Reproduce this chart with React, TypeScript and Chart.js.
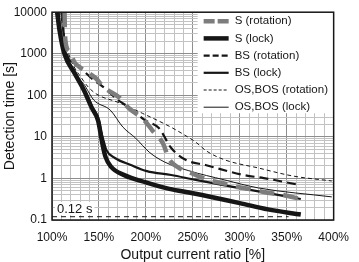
import React, { useEffect, useRef } from 'react';
import { Chart, registerables } from 'chart.js';

Chart.register(...registerables);

// ---- data ----
const seriesLabels = ['S (rotation)', 'S (lock)', 'BS (rotation)', 'BS (lock)', 'OS,BOS (rotation)', 'OS,BOS (lock)'];

const sRotX = [113.4, 113.6, 114.5, 119, 123.8, 131, 146.6, 154.8, 172.4, 180.7, 198.3, 206.6, 219, 224, 235.5, 248, 266.6, 281, 297.6, 312, 325.5, 346, 364.8];
const sRotY = [10000, 4870, 1900, 1100, 630, 450, 257, 158, 86, 52, 25, 14.6, 6.4, 3.1, 1.78, 1.35, 0.92, 0.775, 0.62, 0.55, 0.47, 0.4, 0.32];

const sLockX = [105.5, 108, 113, 124, 134, 142, 149, 151.5, 153.5, 157, 163, 177, 200, 225, 250, 300, 330, 365];
const sLockY = [10000, 3700, 1030, 342, 133, 52, 25, 13, 7.1, 3.3, 1.9, 1.2, 0.8, 0.56, 0.44, 0.255, 0.18, 0.135];

const bsRotX = [111, 112.5, 115.5, 129, 144.5, 154.8, 170.3, 178.6, 199.3, 213.8, 227, 242.8, 263.4, 304.8, 325.5, 364.8];
const bsRotY = [10000, 3000, 1030, 476, 232, 157, 77, 58, 25, 16.3, 5.4, 2.77, 2.1, 1.2, 1.02, 0.69];

const bsLockX = [107, 109, 114, 125, 135, 143, 150, 152.5, 155, 158, 167, 184, 201, 227, 253, 305, 365];
const bsLockY = [10000, 3700, 1030, 342, 133, 52, 25, 13, 8, 4.8, 3.1, 2.1, 1.5, 1.21, 0.92, 0.56, 0.32];

const osRotX = [110.3, 112.4, 116.6, 133, 144.5, 172.4, 196.2, 227, 240, 253, 265, 284, 320, 357, 398];
const osRotY = [10000, 3690, 1220, 232, 119, 65, 37, 17, 11.5, 7.5, 4.5, 2.8, 1.78, 1.14, 0.87];

const osLockX = [109.3, 111.4, 115.5, 136, 144.5, 162.1, 175.5, 189, 203.5, 220, 245, 284, 320, 398];
const osLockY = [10000, 3690, 1030, 157, 77, 44, 17.2, 9.35, 4.3, 2.48, 1.55, 0.92, 0.59, 0.36];

const thresholdX = [100, 352];
const thresholdY = [0.12, 0.12];
const thresholdLabel = '0.12 s';

const xTickValues = [100, 150, 200, 250, 300, 350, 400];
const yTickLabels = ['0.1', '1', '10', '100', '1000', '10000'];
const xTitle = 'Output current ratio [%]';
const yTitle = 'Detection time [s]';

const FONT = '"Liberation Sans", Arial, Helvetica, sans-serif';
const INK = '#161616';
const GRID_MINOR = '#c2c2c2';
const GRID_MAJOR = '#8e8e8e';

const styles = [
  { color: '#7d7d7d', width: 4.5, dash: [15, 9], legendDash: [11, 3] },
  { color: INK, width: 4.5, dash: [], legendDash: [] },
  { color: INK, width: 2.2, dash: [9, 5], legendDash: [6, 3] },
  { color: INK, width: 2.2, dash: [], legendDash: [] },
  { color: INK, width: 1, dash: [4, 3], legendDash: [3, 2] },
  { color: INK, width: 1, dash: [], legendDash: [] },
];

export default function App() {
  const ref = useRef<HTMLCanvasElement>(null);

  useEffect(() => {
    const canvas = ref.current;
    if (!canvas) return;

    const xs = [sRotX, sLockX, bsRotX, bsLockX, osRotX, osLockX];
    const ys = [sRotY, sLockY, bsRotY, bsLockY, osRotY, osLockY];

    const datasets: any[] = seriesLabels.map((label, i) => ({
      label,
      data: xs[i].map((x, j) => ({ x, y: ys[i][j] })),
      borderColor: styles[i].color,
      borderWidth: styles[i].width,
      borderDash: styles[i].dash,
      borderCapStyle: 'butt',
      pointRadius: 0,
      fill: false,
      cubicInterpolationMode: 'monotone',
    }));
    datasets.push({
      label: thresholdLabel,
      data: thresholdX.map((x, j) => ({ x, y: thresholdY[j] })),
      borderColor: INK,
      borderWidth: 1,
      borderDash: [5, 4],
      pointRadius: 0,
      fill: false,
    });

    const gridX: number[] = [];
    for (let v = 100; v <= 400; v += 10) gridX.push(v);
    const gridY: number[] = [];
    for (let e = -1; e <= 3; e++) {
      for (let m = 1; m <= 9; m++) gridY.push(Number((m * Math.pow(10, e)).toPrecision(6)));
    }
    gridY.push(10000);

    const isDecade = (v: number) => {
      const l = Math.log10(v);
      return Math.abs(l - Math.round(l)) < 1e-9;
    };

    const overlay = {
      id: 'overlay',
      beforeDatasetsDraw(chart: any) {
        const { ctx, chartArea: ca, scales } = chart;
        ctx.save();
        ctx.fillStyle = '#fff';
        ctx.fillRect(ca.right - 136, ca.top, 136, 101);
        ctx.font = `13px ${FONT}`;
        const tw = ctx.measureText(thresholdLabel).width;
        const lx = ca.left + 5;
        const ly = scales.y.getPixelForValue(thresholdY[0]) - 3.7;
        ctx.fillRect(lx - 2, ly - 11, tw + 4, 13);
        ctx.fillStyle = INK;
        ctx.textBaseline = 'alphabetic';
        ctx.textAlign = 'left';
        ctx.fillText(thresholdLabel, lx, ly);
        ctx.restore();
      },
      afterDatasetsDraw(chart: any) {
        const { ctx, chartArea: ca } = chart;
        ctx.save();
        const lx0 = ca.right - 130;
        const lx1 = lx0 + 25;
        const tx = lx0 + 31;
        seriesLabels.forEach((label, i) => {
          const yy = ca.top + 9 + i * 17.2;
          const st = styles[i];
          ctx.beginPath();
          ctx.setLineDash(st.legendDash);
          ctx.lineWidth = st.width;
          ctx.strokeStyle = st.color;
          ctx.lineCap = 'butt';
          ctx.moveTo(lx0, yy);
          ctx.lineTo(lx1, yy);
          ctx.stroke();
          ctx.setLineDash([]);
          ctx.fillStyle = INK;
          ctx.font = `11.5px ${FONT}`;
          ctx.textBaseline = 'middle';
          ctx.textAlign = 'left';
          ctx.fillText(label, tx, yy);
        });
        ctx.setLineDash([]);
        ctx.strokeStyle = INK;
        ctx.lineWidth = 1.5;
        ctx.strokeRect(ca.left, ca.top, ca.right - ca.left, ca.bottom - ca.top);
        ctx.restore();
      },
    };

    const chart = new Chart(canvas, {
      type: 'line',
      data: { datasets },
      plugins: [overlay],
      options: {
        responsive: false,
        animation: false,
        devicePixelRatio: 1,
        layout: { padding: { top: 12, right: 17, left: 0, bottom: 0 } },
        plugins: { legend: { display: false }, tooltip: { enabled: false } },
        scales: {
          x: {
            type: 'linear',
            min: 100,
            max: 400,
            afterFit: (s: any) => { s.height = 42; },
            afterBuildTicks: (s: any) => { s.ticks = gridX.map((v) => ({ value: v })); },
            ticks: {
              autoSkip: false,
              maxRotation: 0,
              padding: 10,
              color: INK,
              font: { family: FONT, size: 12 },
              callback: (v: any) => (xTickValues.includes(Number(v)) ? `${v}%` : ''),
            },
            grid: {
              drawTicks: false,
              lineWidth: 1,
              color: (c: any) => (c.tick && xTickValues.includes(c.tick.value) ? GRID_MAJOR : GRID_MINOR),
            },
            border: { display: false },
            title: {
              display: true,
              text: xTitle,
              color: INK,
              font: { family: FONT, size: 14, lineHeight: 1 },
              padding: { top: 0, bottom: 0 },
            },
          },
          y: {
            type: 'logarithmic',
            min: 0.1,
            max: 10000,
            afterFit: (s: any) => { s.width = 52; },
            afterBuildTicks: (s: any) => { s.ticks = gridY.map((v) => ({ value: v })); },
            ticks: {
              autoSkip: false,
              padding: 5,
              color: INK,
              font: { family: FONT, size: 12 },
              callback: (v: any) => {
                const n = Number(v);
                return isDecade(n) ? yTickLabels[Math.round(Math.log10(n)) + 1] : '';
              },
            },
            grid: {
              drawTicks: false,
              lineWidth: 1,
              color: (c: any) => (c.tick && isDecade(c.tick.value) ? GRID_MAJOR : GRID_MINOR),
            },
            border: { display: false },
            title: {
              display: true,
              text: yTitle,
              color: INK,
              font: { family: FONT, size: 14, lineHeight: 1 },
              padding: { top: 3, bottom: 0 },
            },
          },
        },
      },
    } as any);

    return () => chart.destroy();
  }, []);

  return (
    <canvas
      ref={ref}
      width={359}
      height={262}
      style={{ position: 'fixed', left: 0, top: 0, display: 'block', width: 359, height: 262 }}
    />
  );
}
